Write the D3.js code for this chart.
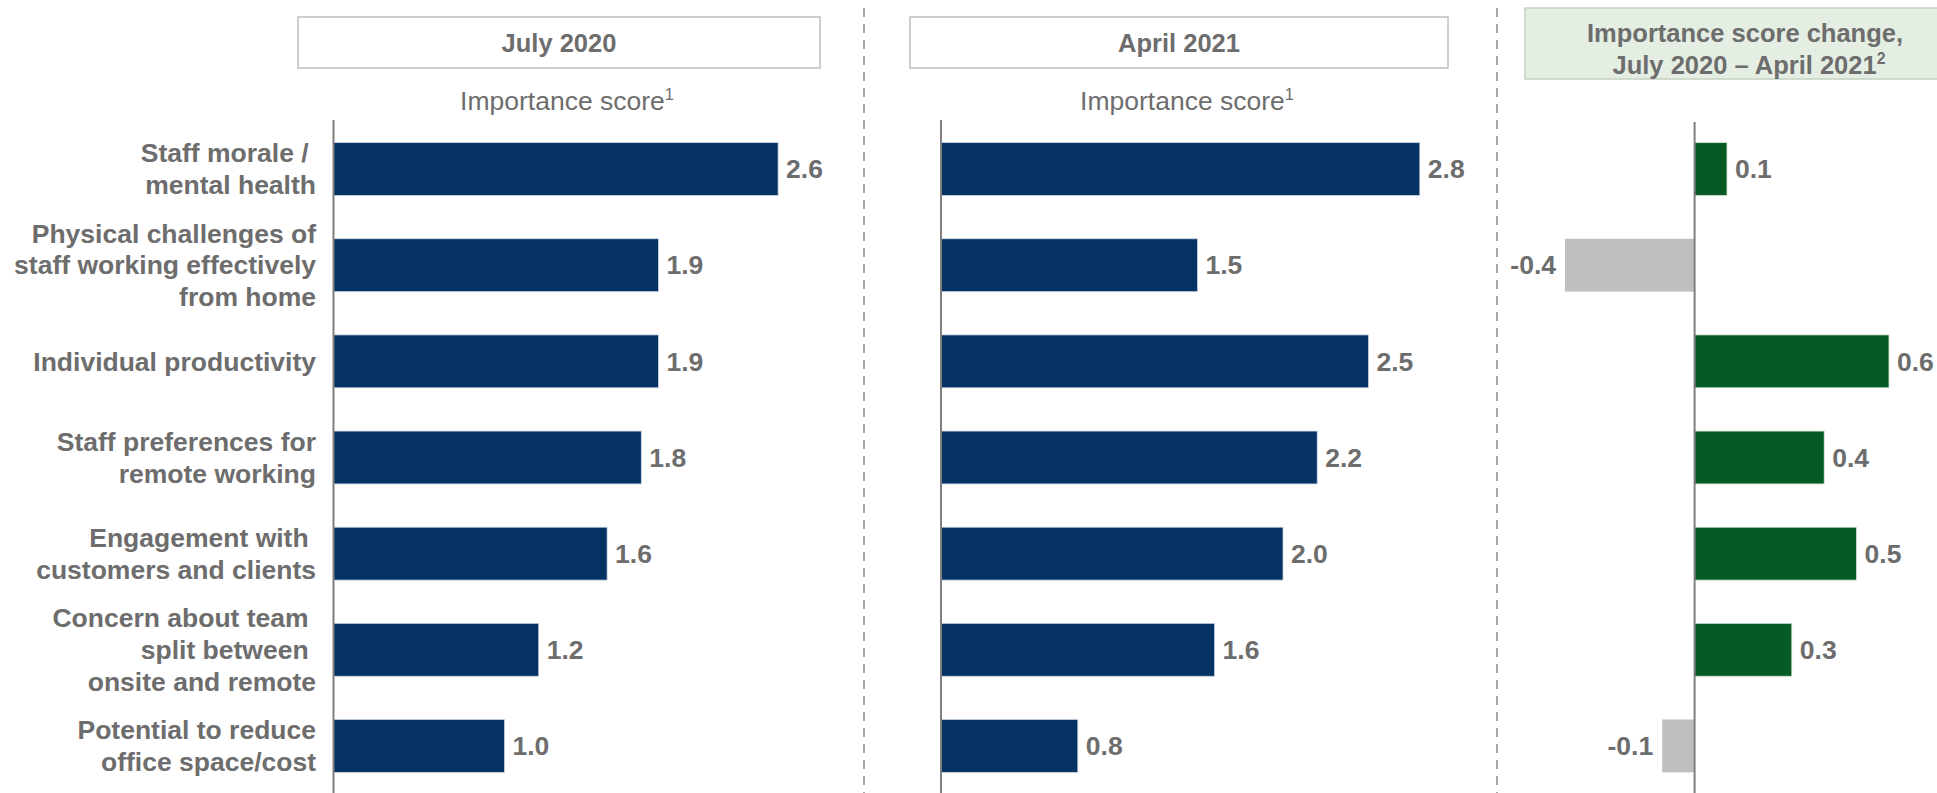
<!DOCTYPE html>
<html>
<head>
<meta charset="utf-8">
<script src="https://cdn.jsdelivr.net/npm/d3@7"></script>
<style>
  html, body { margin: 0; padding: 0; background: #fff; }
  svg { display: block; font-family: "Liberation Sans", Arial, sans-serif; }
  text { white-space: pre; }
</style>
</head>
<body>
<svg id="chart" width="1937" height="793"></svg>
<script>
// Factors rated by importance, two survey waves and the change between them
const categories = [
  "Staff morale / \nmental health",
  "Physical challenges of\nstaff working effectively\nfrom home",
  "Individual productivity",
  "Staff preferences for\nremote working",
  "Engagement with \ncustomers and clients",
  "Concern about team \nsplit between \nonsite and remote",
  "Potential to reduce\noffice space/cost"
];
const july2020 = [2.6, 1.9, 1.9, 1.8, 1.6, 1.2, 1.0];
const april2021 = [2.8, 1.5, 2.5, 2.2, 2.0, 1.6, 0.8];
const scoreChange = [0.1, -0.4, 0.6, 0.4, 0.5, 0.3, -0.1];
const panelTitles = ["July 2020", "April 2021"];
const changeTitle = ["Importance score change,", "July 2020 \u2013 April 2021"];
const axisTitle = "Importance score";

const TEXT = "#6d6d6d";
const NAVY = "#033263";
const GREEN = "#065a24";
const GREY_BAR = "#bfbfbf";
const FS = 26.5;

// one decimal, plain hyphen for negatives
const fmt = d => d.toFixed(1);

const svg = d3.select("#chart");

const y = d3.scaleBand()
  .domain(d3.range(categories.length))
  .range([121, 794])
  .paddingInner(0.45)
  .paddingOuter(0.225);

// dashed separators between the panels
[864, 1497].forEach(x => {
  svg.append("line")
    .attr("x1", x).attr("x2", x).attr("y1", 8).attr("y2", 793)
    .attr("stroke", "#a6a6a6").attr("stroke-width", 2)
    .attr("stroke-dasharray", "9,7");
});

// category labels
const labelG = svg.append("g");
categories.forEach((c, i) => {
  const lines = c.split("\n");
  const lh = 31.8;
  const cy = y(i) + y.bandwidth() / 2;
  const t = labelG.append("text")
    .attr("text-anchor", "end")
    .attr("font-size", FS).attr("font-weight", "bold").attr("fill", TEXT);
  lines.forEach((ln, k) => {
    t.append("tspan")
      .attr("x", 316)
      .attr("y", cy + (k - (lines.length - 1) / 2) * lh)
      .attr("dy", "0.35em")
      .text(ln);
  });
});

function superscriptText(g, x, yy, main, sup, size, weight) {
  const t = g.append("text")
    .attr("x", x).attr("y", yy)
    .attr("text-anchor", "middle")
    .attr("font-size", size).attr("font-weight", weight).attr("fill", TEXT);
  t.append("tspan").text(main);
  t.append("tspan").attr("font-size", size * 0.62).attr("dy", -size * 0.38).text(sup);
  return t;
}

// score panels
const panels = [
  { title: panelTitles[0], values: july2020, x0: 333.5, box: [298, 820] },
  { title: panelTitles[1], values: april2021, x0: 941, box: [910, 1448] }
];

panels.forEach(p => {
  const x = d3.scaleLinear().domain([0, 3]).range([p.x0, p.x0 + 513]);
  const g = svg.append("g");
  const cx = (p.box[0] + p.box[1]) / 2;

  g.append("rect")
    .attr("x", p.box[0]).attr("y", 17)
    .attr("width", p.box[1] - p.box[0]).attr("height", 51)
    .attr("fill", "#fff").attr("stroke", "#bfbfbf").attr("stroke-width", 1.5);
  g.append("text")
    .attr("x", cx).attr("y", 43).attr("dy", "0.35em")
    .attr("text-anchor", "middle")
    .attr("font-size", FS - 1).attr("font-weight", "bold").attr("fill", TEXT)
    .text(p.title);

  superscriptText(g, cx + 8, 110, axisTitle, "1", FS, "normal");

  g.selectAll("rect.bar").data(p.values).join("rect")
    .attr("class", "bar")
    .attr("x", x(0))
    .attr("y", (d, i) => y(i))
    .attr("width", d => x(d) - x(0))
    .attr("height", y.bandwidth())
    .attr("fill", NAVY)
    .attr("stroke", "#c9d3e0").attr("stroke-width", 0.8);

  g.selectAll("text.val").data(p.values).join("text")
    .attr("class", "val")
    .attr("x", d => x(d) + 8)
    .attr("y", (d, i) => y(i) + y.bandwidth() / 2)
    .attr("dy", "0.35em")
    .attr("font-size", FS).attr("font-weight", "bold").attr("fill", TEXT)
    .text(fmt);

  g.append("line")
    .attr("x1", x(0)).attr("x2", x(0)).attr("y1", 120).attr("y2", 793)
    .attr("stroke", "#7f7f7f").attr("stroke-width", 2);
});

// change panel
{
  const x = d3.scaleLinear().domain([-0.4, 0.6]).range([1565, 1889]);
  const g = svg.append("g");

  g.append("rect")
    .attr("x", 1525).attr("y", 8)
    .attr("width", 430).attr("height", 71)
    .attr("fill", "#e5eee3").attr("stroke", "#c5d1c2").attr("stroke-width", 1.5);
  g.append("text")
    .attr("x", 1745).attr("y", 33).attr("dy", "0.35em")
    .attr("text-anchor", "middle")
    .attr("font-size", FS - 1).attr("font-weight", "bold").attr("fill", TEXT)
    .text(changeTitle[0]);
  const t2 = superscriptText(g, 1749, 65, changeTitle[1], "2", FS - 1, "bold");
  t2.attr("dy", "0.35em");

  g.selectAll("rect.bar").data(scoreChange).join("rect")
    .attr("class", "bar")
    .attr("x", d => x(Math.min(0, d)))
    .attr("y", (d, i) => y(i))
    .attr("width", d => Math.abs(x(d) - x(0)))
    .attr("height", y.bandwidth())
    .attr("fill", d => d >= 0 ? GREEN : GREY_BAR)
    .attr("stroke", d => d >= 0 ? "#d6e4d6" : "none").attr("stroke-width", 0.8);

  g.selectAll("text.val").data(scoreChange).join("text")
    .attr("class", "val")
    .attr("x", d => d >= 0 ? x(d) + 8 : x(d) - 9)
    .attr("y", (d, i) => y(i) + y.bandwidth() / 2)
    .attr("dy", "0.35em")
    .attr("text-anchor", d => d >= 0 ? "start" : "end")
    .attr("font-size", FS).attr("font-weight", "bold").attr("fill", TEXT)
    .text(fmt);

  g.append("line")
    .attr("x1", x(0)).attr("x2", x(0)).attr("y1", 122).attr("y2", 793)
    .attr("stroke", "#7f7f7f").attr("stroke-width", 2);
}
</script>
</body>
</html>
